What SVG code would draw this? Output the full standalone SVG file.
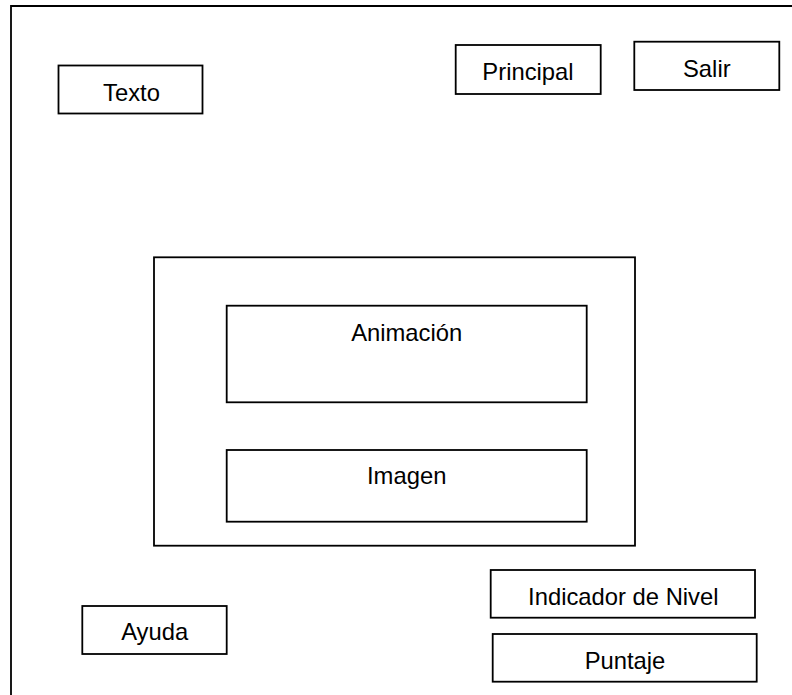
<svg xmlns="http://www.w3.org/2000/svg" width="792" height="695" viewBox="0 0 792 695">
  <style>
    .box { fill: #ffffff; stroke: #000000; stroke-width: 1.8; }
    .frame { fill: none; stroke: #000000; stroke-width: 1.8; }
    .label { font-family: "Liberation Sans", Arial, sans-serif; font-size: 23.8px; fill: #000000; text-anchor: middle; }
  </style>
  <rect width="792" height="695" fill="#ffffff"/>

  <!-- screen frame (open to the right and bottom) -->
  <path class="frame" d="M11,695 V6 H792"/>

  <g id="texto">
    <rect class="box" x="58.5" y="65.5" width="144" height="48"/>
    <text class="label" x="131.5" y="100.5">Texto</text>
  </g>

  <g id="principal">
    <rect class="box" x="455.7" y="45" width="145" height="49"/>
    <text class="label" x="528" y="79.5">Principal</text>
  </g>

  <g id="salir">
    <rect class="box" x="634.3" y="41.7" width="145" height="48.3"/>
    <text class="label" x="706.8" y="77">Salir</text>
  </g>

  <g id="contenido">
    <rect class="box" x="154" y="257.3" width="481" height="288.4"/>
  </g>

  <g id="animacion">
    <rect class="box" x="226.7" y="305.7" width="360" height="96.6"/>
    <text class="label" x="406.7" y="340.7">Animación</text>
  </g>

  <g id="imagen">
    <rect class="box" x="226.7" y="450" width="360" height="71.7"/>
    <text class="label" x="406.7" y="484">Imagen</text>
  </g>

  <g id="ayuda">
    <rect class="box" x="82.3" y="606" width="144.4" height="48"/>
    <text class="label" x="154.7" y="639.6">Ayuda</text>
  </g>

  <g id="indicador-nivel">
    <rect class="box" x="490.7" y="570" width="264.3" height="47.7"/>
    <text class="label" x="623.3" y="604.6">Indicador de Nivel</text>
  </g>

  <g id="puntaje">
    <rect class="box" x="492.7" y="634" width="264" height="47.7"/>
    <text class="label" x="625" y="668.6">Puntaje</text>
  </g>

  <g id="connectors"/>
</svg>
